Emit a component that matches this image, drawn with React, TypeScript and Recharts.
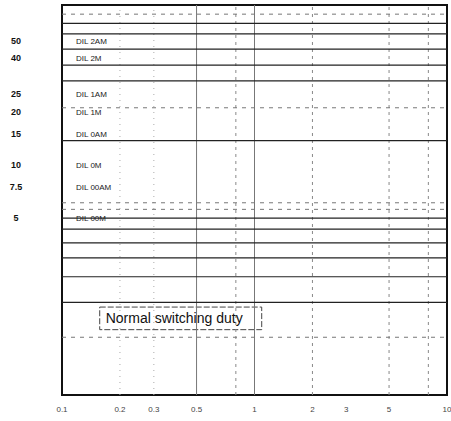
import { ComposedChart, Line, XAxis, YAxis, ReferenceLine, ReferenceArea } from "recharts";

// rated current (A) for each contactor type
const ratings = [50, 40, 25, 20, 15, 10, 7.5, 5];
const types = ["DIL 2AM", "DIL 2M", "DIL 1AM", "DIL 1M", "DIL 0AM", "DIL 0M", "DIL 00AM", "DIL 00M"];

const xTicks = [0.1, 0.2, 0.3, 0.5, 1, 2, 3, 5, 10];
const xLabels = ["0.1", "0.2", "0.3", "0.5", "1", "2", "3", "5", "10"];

// near-horizontal characteristic curves (level on the y scale)
const solidLevels = [63, 55, 45, 36.6, 29.8, 13.7, 5.0, 4.33, 3.62, 2.98, 2.33, 1.67];
const dashedLevels = [71, 21, 6.1, 5.6, 1.06];

const gridSolid = [0.5, 1];
const gridDashed = [0.8, 2, 5, 8];
const gridDotted = [0.2, 0.3];

const box = { x1: 0.157, x2: 1.09, y1: 1.17, y2: 1.57 };

const span = (v: number) => [
  { x: 0.1, y: v },
  { x: 10, y: v },
];

const font = "Arial, Liberation Sans, sans-serif";

function YTick(props: any) {
  const { y, payload } = props;
  const i = ratings.indexOf(payload.value);
  return (
    <g>
      <text x={16} y={y} dy={3} textAnchor="middle" fontSize={9} fontWeight="bold" fill="#111" fontFamily={font}>
        {payload.value}
      </text>
      <text x={76} y={y} dy={3} textAnchor="start" fontSize={8} fill="#222" fontFamily={font}>
        {types[i]}
      </text>
    </g>
  );
}

export default function App() {
  return (
    <div style={{ position: "absolute", left: 0, top: 0, background: "#fff" }}>
      <ComposedChart width={451} height={421} margin={{ top: 5, right: 4, left: 0, bottom: 0 }}>
        <XAxis
          type="number"
          dataKey="x"
          scale="log"
          domain={[0.1, 10]}
          ticks={xTicks}
          interval={0}
          allowDataOverflow
          axisLine={false}
          tickLine={false}
          height={26}
          tickFormatter={(v: number) => xLabels[xTicks.indexOf(v)]}
          tick={{ fontSize: 8, fill: "#444", fontFamily: font, dy: 3 }}
        />
        <YAxis
          type="number"
          dataKey="y"
          scale="log"
          domain={[0.5, 80]}
          ticks={ratings}
          interval={0}
          allowDataOverflow
          axisLine={false}
          tickLine={false}
          width={62}
          tick={<YTick />}
        />
        {gridSolid.map((v) => (
          <ReferenceLine key={"gs" + v} x={v} stroke="#777" strokeWidth={1} />
        ))}
        {gridDashed.map((v) => (
          <ReferenceLine key={"gd" + v} x={v} stroke="#888" strokeDasharray="3 4" />
        ))}
        {gridDotted.map((v) => (
          <ReferenceLine key={"gt" + v} x={v} stroke="#aaa" strokeDasharray="1 5" />
        ))}
        {solidLevels.map((v, i) => (
          <Line
            key={"s" + i}
            data={span(v)}
            dataKey="y"
            stroke="#222"
            strokeWidth={1.2}
            dot={false}
            isAnimationActive={false}
          />
        ))}
        {dashedLevels.map((v, i) => (
          <Line
            key={"d" + i}
            data={span(v)}
            dataKey="y"
            stroke="#777"
            strokeWidth={1}
            strokeDasharray="4 5"
            dot={false}
            isAnimationActive={false}
          />
        ))}
        <ReferenceArea
          x1={box.x1}
          x2={box.x2}
          y1={box.y1}
          y2={box.y2}
          fill="#fff"
          fillOpacity={1}
          stroke="#444"
          strokeDasharray="6 2"
          label={{ value: "Normal switching duty", position: "insideLeft", offset: 6, fontSize: 14, fill: "#111", fontFamily: font }}
        />
        <ReferenceArea x1={0.1} x2={10} y1={0.5} y2={80} fill="none" stroke="#111" strokeWidth={2} />
      </ComposedChart>
    </div>
  );
}
